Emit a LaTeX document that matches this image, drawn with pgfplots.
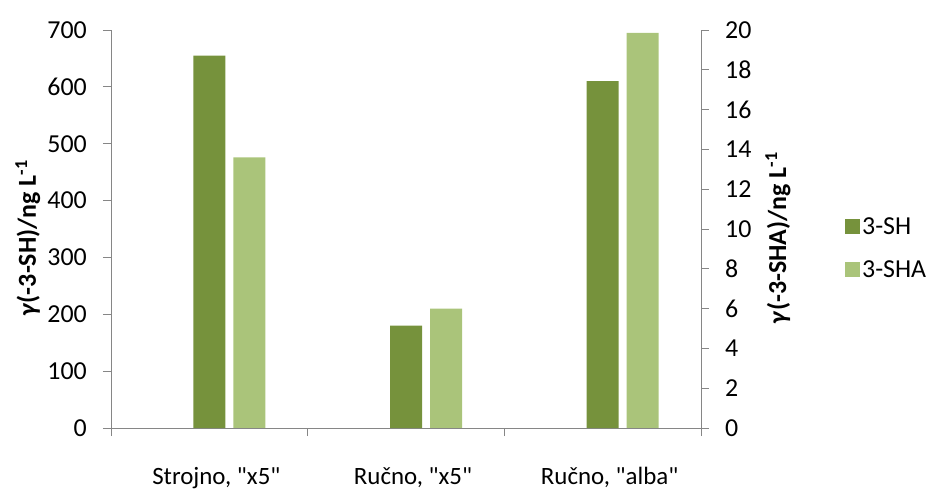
\documentclass[border=0pt]{standalone}
\usepackage{pgfplots}
\pgfplotsset{compat=1.18}
\usepackage{fontspec}
\setmainfont{Carlito}
\definecolor{darkg}{RGB}{118,146,60}
\definecolor{lightg}{RGB}{170,196,122}
\definecolor{axgray}{RGB}{134,134,134}
\newcommand\f{\fontsize{26}{30}\selectfont}
\newcommand\fc{\fontsize{25}{30}\selectfont}
\newcommand\q{\textquotedbl}
\begin{document}
\begin{tikzpicture}
\useasboundingbox (0,0) rectangle (933bp,491bp);
\pgfplotsset{
  common/.style={
    at={(111bp,63bp)}, anchor=south west,
    scale only axis, width=590bp, height=398bp,
    xmin=-0.5, xmax=2.5,
    ymin=0,
    /pgf/number format/assume math mode=true,
    tick label style={font=\f, black},
    label style={font=\f\bfseries},
    axis line style={axgray, line width=0.8pt},
    tick style={axgray, line width=0.8pt},
    major tick length=8bp,
    tick align=outside,
    ybar, bar width=32bp,
    clip=false,
  }
}
\begin{axis}[common,
  axis x line*=bottom, axis y line*=left,
  ymax=700, ytick={0,100,...,700},
  yticklabel style={inner sep=0pt, xshift=-16bp},
  xtick={-0.5,0.5,1.5,2.5}, xticklabels={},
  extra x ticks={0,1,2},
  extra x tick labels={{Strojno, \q x5\q},{Ručno, \q x5\q},{\raisebox{-4bp}{Ručno, \q alba\q}}},
  extra x tick style={major tick length=0pt, tick label style={font=\fc, yshift=-36bp, xshift=7bp}},
  ylabel={\textit{γ}(-3-SH)/ng L\textsuperscript{-1}},
  ylabel style={at={(axis description cs:-0.141,0.477)}, anchor=center},
  legend style={draw=none, fill=none, at={(1.244,0.452)}, anchor=west, font=\f, row sep=21bp, inner sep=0pt,
    /tikz/every even column/.append style={column sep=3bp}},
  legend cell align=left,
  legend image code/.code={\fill[#1] (0bp,-7.5bp) rectangle (15bp,7.5bp);},
]
\addplot[fill=darkg, draw=none, bar shift=0bp] coordinates {(0,655) (1,180) (2,610)};
\addlegendentry{3-SH}
\addlegendimage{fill=lightg, draw=none}
\addlegendentry{3-SHA}
\end{axis}
\begin{axis}[common,
  axis x line=none, axis y line*=right,
  ymax=20, ytick={0,2,...,20},
  yticklabel style={inner sep=0pt, xshift=16bp},
  ylabel={\textit{γ}(-3-SHA)/ng L\textsuperscript{-1}},
  ylabel style={at={(axis description cs:1.1305,0.477)}, anchor=center},
]
\addplot[fill=lightg, draw=none, bar shift=40bp] coordinates {(0,13.6) (1,6.0) (2,19.85)};
\end{axis}
\end{tikzpicture}
\end{document}
